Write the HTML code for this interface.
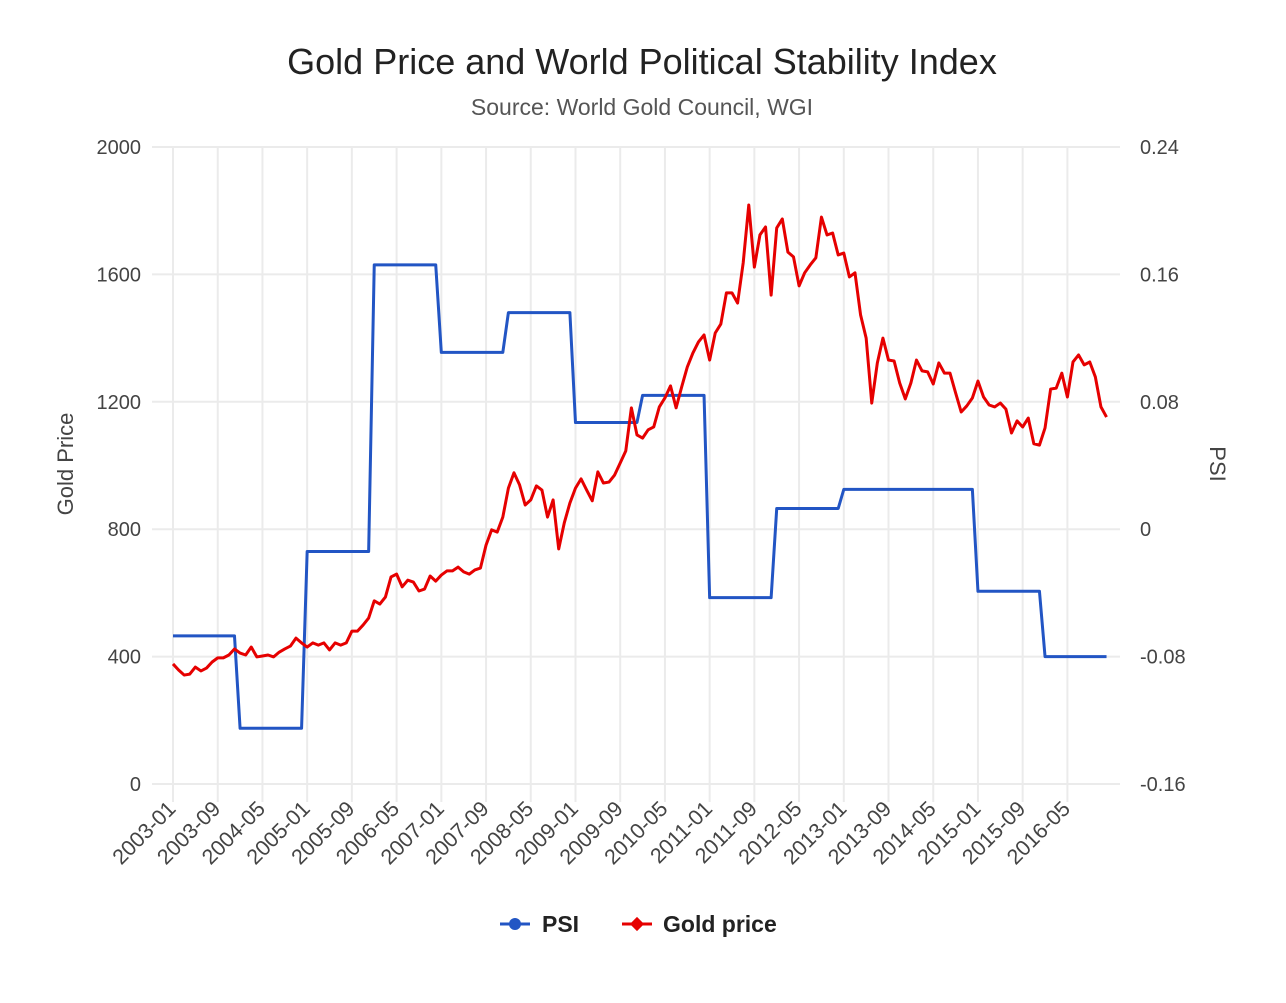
<!DOCTYPE html>
<html><head><meta charset="utf-8"><style>
body{margin:0;background:#fff;font-family:"Liberation Sans",Arial,sans-serif;}
svg text{font-family:"Liberation Sans",Arial,sans-serif;}
</style></head><body>
<svg id="chart" width="1286" height="998" xmlns="http://www.w3.org/2000/svg">
<rect width="1286" height="998" fill="#fff"/>
<text x="642" y="74" text-anchor="middle" font-size="36" fill="#222">Gold Price and World Political Stability Index</text>
<text x="642" y="115" text-anchor="middle" font-size="23" fill="#555">Source: World Gold Council, WGI</text>
<g id="grid"></g><g id="axes"></g><g id="series"></g>
<text transform="translate(73,464) rotate(-90)" text-anchor="middle" font-size="22" fill="#444">Gold Price</text>
<text transform="translate(1210,464) rotate(90)" text-anchor="middle" font-size="22" fill="#444">PSI</text>
<g>
<g><line x1="500" y1="924" x2="530" y2="924" stroke="#2255c4" stroke-width="3"/><circle cx="515" cy="924" r="6" fill="#2255c4"/><text x="542" y="932" font-size="23" font-weight="bold" fill="#222">PSI</text></g>
<g><line x1="622" y1="924" x2="652" y2="924" stroke="#e60000" stroke-width="3"/><rect x="632" y="919" width="10" height="10" fill="#e60000" transform="rotate(45 637 924)"/><text x="663" y="932" font-size="23" font-weight="bold" fill="#222">Gold price</text></g>
</g>
</svg>
<script>
const years=[2003,2004,2005,2006,2007,2008,2009,2010,2011,2012,2013,2014,2015,2016];
const psiAnnual=[-0.067,-0.125,-0.014,0.166,0.111,0.136,0.067,0.084,-0.043,0.013,0.025,0.025,-0.039,-0.080];
const gold=[377,358,342,345,367,355,364,383,396,396,405,424,
411,405,430,399,402,405,399,414,424,433,458,443,
430,443,436,443,421,443,436,443,480,480,499,521,
575,565,587,650,659,619,640,634,606,612,653,637,
656,669,669,681,666,659,672,678,750,798,791,838,
929,977,939,876,892,936,923,838,892,738,820,882,
929,958,923,889,980,945,948,970,1008,1046,1181,1096,
1086,1112,1121,1184,1212,1250,1181,1247,1309,1353,1388,1410,
1331,1416,1444,1542,1542,1510,1636,1818,1623,1724,1749,1535,
1746,1774,1670,1655,1564,1605,1630,1652,1780,1724,1730,1661,
1667,1592,1605,1473,1400,1196,1322,1400,1331,1328,1259,1209,
1259,1331,1297,1294,1256,1322,1290,1290,1228,1168,1187,1212,
1265,1215,1190,1184,1196,1177,1102,1140,1121,1149,1068,1064,
1118,1240,1243,1290,1215,1325,1347,1316,1325,1278,1184,1152];
const goldTicks=[0,400,800,1200,1600,2000];
const psiTicks=["-0.16","-0.08","0","0.08","0.16","0.24"];
const months=[];years.forEach(y=>{for(let m=1;m<=12;m++)months.push(y+'-'+String(m).padStart(2,'0'));});
const psi=months.map(m=>psiAnnual[years.indexOf(+m.slice(0,4))]);
const X0=173,DX=5.59,Y0=784,Y1=147;
const x=i=>X0+i*DX;
const yG=v=>Y0-(v/2000)*(Y0-Y1);
const yP=v=>Y0-((v+0.16)/0.4)*(Y0-Y1);
const NS='http://www.w3.org/2000/svg';
function mk(tag,attrs,parent,txt){const e=document.createElementNS(NS,tag);for(const k in attrs)e.setAttribute(k,attrs[k]);if(txt!=null)e.textContent=txt;parent.appendChild(e);return e;}
const grid=document.getElementById('grid'),axes=document.getElementById('axes'),series=document.getElementById('series');
goldTicks.forEach((t,k)=>{const yy=yG(t);
 const l=mk('line',{x1:152,x2:1120,y1:yy,y2:yy,stroke:'#ebebeb','stroke-width':2},grid);
 
 
 const a=mk('text',{x:141,y:yy+7,'text-anchor':'end','font-size':20,fill:'#444'},axes,String(t));
 
 
 const b=mk('text',{x:1140,y:yy+7,'text-anchor':'start','font-size':20,fill:'#444'},axes,psiTicks[k]);
 
 
});
for(let i=0;i<months.length;i+=8){const xx=x(i);
 const l=mk('line',{x1:xx,x2:xx,y1:Y1,y2:802,stroke:'#ebebeb','stroke-width':2},grid);
 
 
 const t=mk('text',{transform:`translate(${xx+4},${810}) rotate(-45)`,'text-anchor':'end','font-size':21.5,fill:'#444'},axes,months[i]);
 
 
}
const pp=mk('polyline',{points:psi.map((v,i)=>x(i)+','+yP(v)).join(' '),fill:'none',stroke:'#2255c4','stroke-width':3,'stroke-linejoin':'round'},series);


const gp=mk('polyline',{points:gold.map((v,i)=>x(i)+','+yG(v)).join(' '),fill:'none',stroke:'#e60000','stroke-width':3,'stroke-linejoin':'round'},series);


</script>
</body></html>
